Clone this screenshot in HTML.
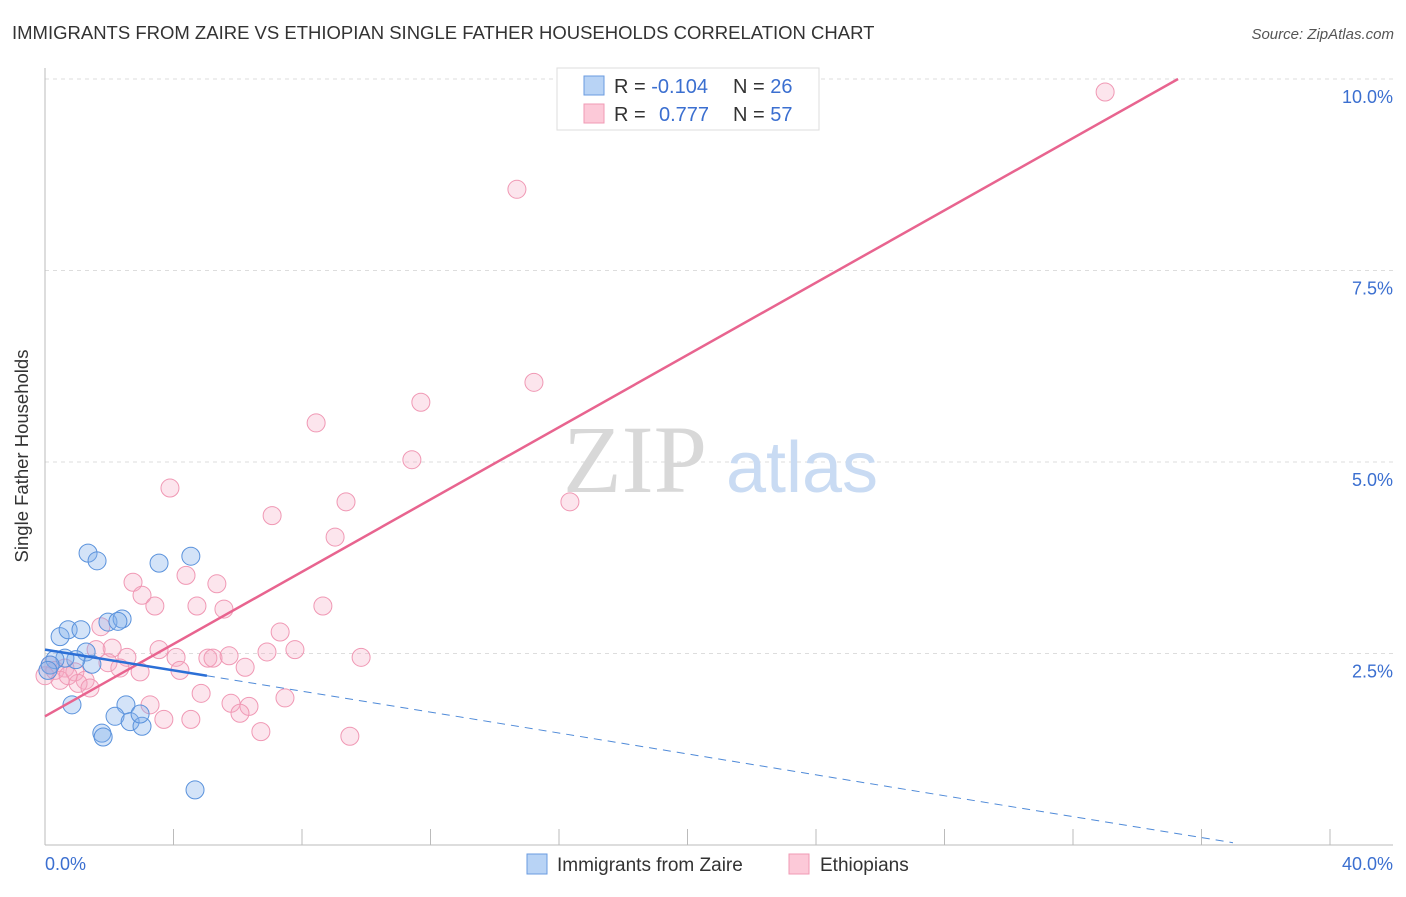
<!DOCTYPE html>
<html><head><meta charset="utf-8"><style>
body{margin:0;background:#fff;font-family:"Liberation Sans",sans-serif}
</style></head><body>
<svg width="1406" height="892" xmlns="http://www.w3.org/2000/svg" style="font-family:'Liberation Sans',sans-serif">
<text x="12" y="39" font-size="18.5" fill="#333">IMMIGRANTS FROM ZAIRE VS ETHIOPIAN SINGLE FATHER HOUSEHOLDS CORRELATION CHART</text>
<text x="1394" y="39" font-size="15" fill="#555" font-style="italic" text-anchor="end">Source: ZipAtlas.com</text>
<g id="grid"></g>
<text x="635" y="492" font-size="96" fill="#d8d8d8" font-family="'Liberation Serif',serif" text-anchor="middle">ZIP</text>
<text x="802" y="492" font-size="72" fill="#c9dbf3" text-anchor="middle">atlas</text>
<g id="axes"></g>
<g id="marks"></g>
<g id="lines"></g>
<text x="28" y="456" font-size="18.5" fill="#333" text-anchor="middle" transform="rotate(-90 28 456)">Single Father Households</text>
<g>
<rect x="557" y="68" width="262" height="62" fill="#fff" stroke="#ddd"/>
<rect x="584" y="76" width="20" height="19" fill="#b8d3f5" stroke="#6a9be0"/>
<rect x="584" y="104" width="20" height="19" fill="#fcc9d8" stroke="#f09ab4"/>
<text x="614" y="93" font-size="20" fill="#333">R = <tspan fill="#3b6fd0">-0.104</tspan><tspan x="733">N = </tspan><tspan fill="#3b6fd0">26</tspan></text>
<text x="614" y="121" font-size="20" fill="#333">R = <tspan x="659" fill="#3b6fd0">0.777</tspan><tspan x="733">N = </tspan><tspan fill="#3b6fd0">57</tspan></text>
</g>
<g>
<rect x="527" y="854" width="20" height="20" fill="#b8d3f5" stroke="#6a9be0"/>
<text x="557" y="871" font-size="19" fill="#333">Immigrants from Zaire</text>
<rect x="789" y="854" width="20" height="20" fill="#fcc9d8" stroke="#f09ab4"/>
<text x="820" y="871" font-size="19" fill="#333">Ethiopians</text>
</g>
</svg>
<script>
const xTicks=[0,4,8,12,16,20,24,28,32,36,40];
const yTicks=[2.5,5,7.5,10];
const yTickLabels=["2.5%","5.0%","7.5%","10.0%"];
const zaireX=[1.34,1.62,3.55,4.54,0.47,0.72,1.12,1.96,2.40,2.27,1.28,1.46,0.96,0.62,0.31,0.16,0.09,0.84,2.52,2.18,2.65,3.02,2.96,1.77,1.81,4.67];
const zaireY=[3.81,3.71,3.68,3.77,2.72,2.81,2.81,2.91,2.95,2.92,2.52,2.36,2.42,2.44,2.42,2.35,2.28,1.83,1.83,1.68,1.61,1.55,1.71,1.46,1.41,0.72];
const ethX=[33.00,14.69,15.22,11.70,8.44,11.42,3.89,9.37,16.34,7.07,9.03,2.74,4.39,5.35,3.02,3.42,4.73,5.57,8.65,1.74,7.32,2.09,1.59,2.55,3.55,4.08,5.07,5.23,5.73,6.91,7.78,9.84,1.96,2.33,2.96,4.20,6.23,0.31,0.62,0.93,0.47,1.25,1.03,1.40,4.86,3.27,5.79,6.35,6.07,7.47,3.70,4.54,6.72,9.49,0,0.16,0.72];
const ethY=[9.83,8.56,6.04,5.78,5.51,5.03,4.66,4.48,4.48,4.30,4.02,3.43,3.52,3.41,3.26,3.12,3.12,3.08,3.12,2.85,2.78,2.57,2.55,2.45,2.55,2.45,2.44,2.44,2.47,2.52,2.55,2.45,2.38,2.31,2.26,2.28,2.32,2.28,2.31,2.26,2.15,2.15,2.11,2.05,1.98,1.83,1.85,1.81,1.72,1.92,1.64,1.64,1.48,1.42,2.21,2.35,2.21];
const ethTrend=[[0,1.68],[35.27,10.0]];
const zaireTrendSolid=[[0,2.55],[5.04,2.21]];
const zaireTrendDash=[[5.04,2.21],[36.98,0.03]];
const NS='http://www.w3.org/2000/svg';
const sx=v=>45+v*(1285/40);
const sy=v=>845-v*(191.5/2.5);
function mk(tag,attrs,parent){const e=document.createElementNS(NS,tag);for(const k in attrs)e.setAttribute(k,attrs[k]);document.getElementById(parent).appendChild(e);return e;}
yTicks.forEach((t,i)=>{
 const g=mk('line',{x1:45,x2:1393,y1:sy(t),y2:sy(t),stroke:'#ddd','stroke-dasharray':'4,4'},'grid');
 
 
 const l=mk('text',{x:1393,y:sy(t)+24,'font-size':18,fill:'#3b6fd0','text-anchor':'end'},'axes');
 l.textContent=yTickLabels[i];
 
 
});
const ax=mk('line',{x1:45,x2:1393,y1:845,y2:845,stroke:'#bbb'},'axes');


const ay=mk('line',{x1:45,x2:45,y1:68,y2:845,stroke:'#bbb'},'axes');


xTicks.forEach(t=>{
 const tk=mk('line',{x1:sx(t),x2:sx(t),y1:829,y2:845,stroke:'#bbb'},'axes');
 
 
});
const x0=mk('text',{x:45,y:870,'font-size':18,fill:'#3b6fd0'},'axes');x0.textContent='0.0%';


const x1=mk('text',{x:1393,y:870,'font-size':18,fill:'#3b6fd0','text-anchor':'end'},'axes');x1.textContent='40.0%';


ethX.forEach((v,i)=>{
 const c=mk('circle',{cx:sx(v),cy:sy(ethY[i]),r:9,fill:'rgba(246,168,196,0.3)',stroke:'#f098b4','stroke-width':1},'marks');
 
 
});
zaireX.forEach((v,i)=>{
 const c=mk('circle',{cx:sx(v),cy:sy(zaireY[i]),r:9,fill:'rgba(130,175,235,0.35)',stroke:'#5a92dc','stroke-width':1},'marks');
 
 
});
const pl=mk('line',{x1:sx(ethTrend[0][0]),y1:sy(ethTrend[0][1]),x2:sx(ethTrend[1][0]),y2:sy(ethTrend[1][1]),stroke:'#e8648f','stroke-width':2.5},'lines');


const bl=mk('line',{x1:sx(zaireTrendSolid[0][0]),y1:sy(zaireTrendSolid[0][1]),x2:sx(zaireTrendSolid[1][0]),y2:sy(zaireTrendSolid[1][1]),stroke:'#2b6fd6','stroke-width':2.5},'lines');


const bd=mk('line',{x1:sx(zaireTrendDash[0][0]),y1:sy(zaireTrendDash[0][1]),x2:sx(zaireTrendDash[1][0]),y2:sy(zaireTrendDash[1][1]),stroke:'#4f8ad8','stroke-width':1,'stroke-dasharray':'8,6'},'lines');


</script>
</body></html>
